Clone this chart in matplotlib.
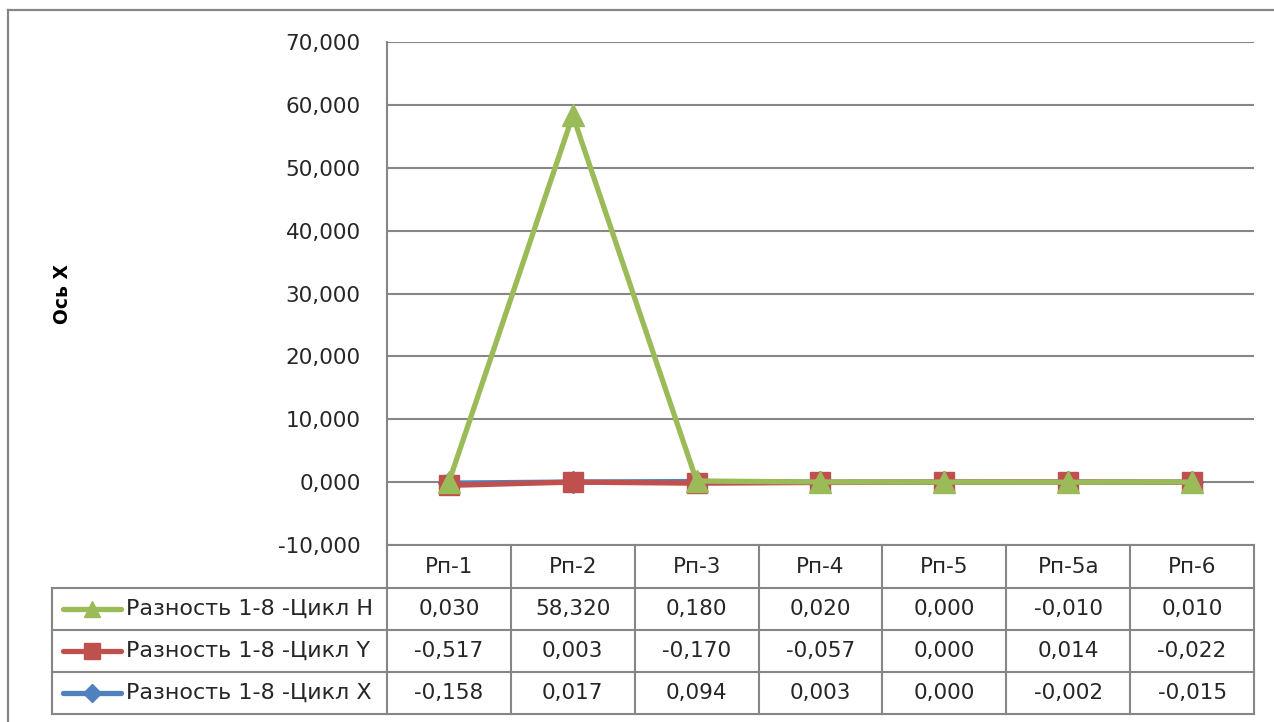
import matplotlib.pyplot as plt
import matplotlib.transforms as mtransforms
from matplotlib.lines import Line2D

W, H = 1274, 722

categories = ["Рп-1", "Рп-2", "Рп-3", "Рп-4", "Рп-5", "Рп-5а", "Рп-6"]
series_names = ["Разность 1-8 -Цикл H", "Разность 1-8 -Цикл Y", "Разность 1-8 -Цикл X"]
diff_h = [0.030, 58.320, 0.180, 0.020, 0.000, -0.010, 0.010]
diff_y = [-0.517, 0.003, -0.170, -0.057, 0.000, 0.014, -0.022]
diff_x = [-0.158, 0.017, 0.094, 0.003, 0.000, -0.002, -0.015]
y_ticks = [-10, 0, 10, 20, 30, 40, 50, 60, 70]

GREEN = "#9bbb59"
RED = "#c0504d"
BLUE = "#4f81bd"
GRID = "#868686"
TEXT = "#262626"

plt.rcParams["font.family"] = "DejaVu Sans"


def fx(px):
    return px / W


def fy(py):
    return 1 - py / H


def fmt(v):
    return f"{v:.3f}".replace(".", ",")


fig = plt.figure(figsize=(W / 100, H / 100), dpi=100)

# outer chart frame (only top and left edges fall inside the canvas)
fig.add_artist(Line2D([fx(8), 1.0], [fy(10), fy(10)], transform=fig.transFigure,
                      color=GRID, lw=1.6))
fig.add_artist(Line2D([fx(8), fx(8)], [0.0, fy(10)], transform=fig.transFigure,
                      color=GRID, lw=1.6))

ax = fig.add_axes([fx(387), fy(545), fx(1254) - fx(387), fy(42) - fy(545)])
ax.set_xlim(-0.5, len(categories) - 0.5)
ax.set_ylim(-10, 70)
ax.set_yticks(y_ticks)
ax.set_yticklabels([fmt(v) for v in y_ticks], fontsize=15.5, color=TEXT)
ax.tick_params(axis="y", length=0, pad=19)
ax.set_xticks([])
ax.grid(axis="y", color=GRID, lw=1.5)
ax.set_axisbelow(True)
for s in ["top", "right", "bottom"]:
    ax.spines[s].set_visible(False)
ax.spines["left"].set_color(GRID)
ax.spines["left"].set_linewidth(1.5)

xs = range(len(categories))
styles = [(diff_x, BLUE, "D", 11), (diff_y, RED, "s", 15), (diff_h, GREEN, "^", 16)]
for vals, color, marker, ms in styles:
    ax.plot(xs, vals, color=color, lw=3.8, marker=marker, ms=ms, zorder=3)

fig.text(fx(63), fy(294), "Ось X", rotation=90, ha="center", va="center",
         fontsize=13.5, fontweight="bold", color="black")

# data table under the plot, columns aligned to the categories
tr = mtransforms.blended_transform_factory(ax.transData, fig.transFigure)
row_edges = [545, 588, 630, 672, 714]
n = len(categories)
x0, x1 = -0.5, n - 0.5

def hline(xa, xb, py, transform):
    fig.add_artist(Line2D([xa, xb], [fy(py), fy(py)], transform=transform,
                          color=GRID, lw=1.5))

hline(x0, x1, row_edges[0], tr)
for py in row_edges[1:]:
    hline(x0, x1, py, tr)
    hline(fx(52), fx(387), py, fig.transFigure)
for i in range(n + 1):
    fig.add_artist(Line2D([i - 0.5, i - 0.5], [fy(545), fy(714)], transform=tr,
                          color=GRID, lw=1.5))
fig.add_artist(Line2D([fx(52), fx(52)], [fy(588), fy(714)], transform=fig.transFigure,
                      color=GRID, lw=1.5))

for i, c in enumerate(categories):
    fig.text(i, fy(567), c, transform=tr, ha="center", va="center",
             fontsize=15.5, color=TEXT)

table_rows = [(diff_h, GREEN, "^", 12), (diff_y, RED, "s", 12), (diff_x, BLUE, "D", 9)]
for r, ((vals, color, marker, ms), name) in enumerate(zip(table_rows, series_names)):
    yc = fy((row_edges[r + 1] + row_edges[r + 2]) / 2)
    for i, v in enumerate(vals):
        fig.text(i, yc, fmt(v), transform=tr, ha="center", va="center",
                 fontsize=15.5, color=TEXT)
    fig.add_artist(Line2D([fx(63), fx(121)], [yc, yc], transform=fig.transFigure,
                          color=color, lw=3.8, solid_capstyle="round"))
    fig.add_artist(Line2D([fx(92)], [yc], transform=fig.transFigure, color=color,
                          marker=marker, ms=ms, lw=0))
    fig.text(fx(126), yc, name, ha="left", va="center", fontsize=16, color=TEXT)

fig.savefig("out.png", dpi=100)
